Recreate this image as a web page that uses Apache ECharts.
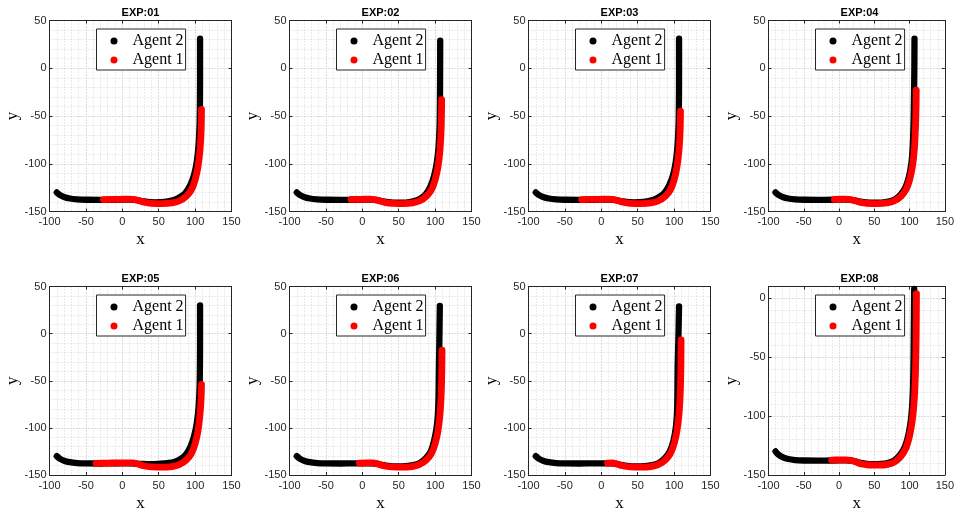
<!DOCTYPE html>
<html>
<head>
<meta charset="utf-8">
<script src="https://cdn.jsdelivr.net/npm/echarts@6/dist/echarts.min.js"></script>
<style>html,body{margin:0;padding:0;background:#fff}#c{width:957px;height:513px}</style>
</head>
<body>
<div id="c"></div>
<script>
// ---------- data ----------
const titles = ['EXP:01','EXP:02','EXP:03','EXP:04','EXP:05','EXP:06','EXP:07','EXP:08'];
const seriesNames = ['Agent 2','Agent 1'];
const xTicks = [-100,-50,0,50,100,150];
const yTicks = [-150,-100,-50,0,50];
const yTicks08 = [-150,-100,-50,0];
const yMax = [50,50,50,50,50,50,50,10];

// Agent 2 (black)
const agent2_exp01 = [[-90,-130],[-86,-132.6],[-80,-134.8],[-72,-136.4],[-62,-137.3],[-50,-137.7],[-30,-137.8],[-10,-137.7],[10,-137.6],[20,-138],[30,-139.4],[45,-140.4],[58,-140],[68,-138.6],[77,-136],[86,-131],[93,-123],[98.5,-112],[102.3,-98],[104.8,-80],[106.2,-58],[106.7,-28],[106.8,0],[106.8,31]];
const agent2_exp02 = [[-90,-130],[-86,-132.6],[-80,-134.8],[-72,-136.4],[-62,-137.3],[-50,-137.7],[-30,-137.8],[-10,-137.7],[10,-137.6],[20,-138],[30,-139.6],[45,-140.8],[60,-140.6],[70,-139.4],[79,-137],[87,-132],[93.5,-124],[98.5,-113],[102.3,-99],[104.8,-82],[106.2,-60],[106.7,-30],[106.9,0],[107,29]];
const agent2_exp03 = [[-90,-130],[-86,-132.6],[-80,-134.8],[-72,-136.4],[-62,-137.3],[-50,-137.7],[-30,-137.8],[-10,-137.7],[10,-137.6],[20,-138],[30,-139.4],[45,-140.4],[58,-140],[68,-138.6],[77,-136],[86,-131],[93,-123],[98.5,-112],[102.3,-98],[104.8,-80],[106.2,-58],[106.7,-28],[106.8,0],[106.8,31]];
const agent2_exp04 = [[-90,-130],[-86,-132.6],[-80,-134.8],[-72,-136.4],[-62,-137.3],[-50,-137.7],[-30,-137.8],[-10,-137.7],[10,-137.6],[20,-138],[30,-139.6],[45,-140.8],[60,-140.6],[70,-139.6],[79,-137.3],[87,-132.5],[94,-125],[99,-114],[102.5,-100],[104.5,-82],[105.6,-60],[106.3,-30],[106.8,0],[107,31]];
const agent2_exp05 = [[-90,-130],[-86,-132.6],[-80,-134.8],[-72,-136.4],[-62,-137.3],[-50,-137.7],[-30,-137.8],[-10,-137.7],[10,-137.6],[25,-138.2],[40,-138.6],[52,-138],[62,-137.3],[71,-136.2],[79,-133.5],[87,-128.5],[93.5,-120],[98.5,-109],[102.3,-95],[104.8,-78],[106.2,-56],[106.7,-28],[106.8,0],[106.8,30]];
const agent2_exp06 = [[-90,-130],[-86,-132.6],[-80,-134.8],[-72,-136.4],[-62,-137.3],[-50,-137.7],[-30,-137.8],[-10,-137.7],[10,-137.6],[20,-138],[30,-139.6],[45,-140.8],[60,-140.6],[70,-139.6],[79,-137.3],[87,-132.5],[94,-125],[98.5,-114],[101.8,-101],[103.8,-86],[104.8,-65],[105.2,-40],[105.8,-10],[106.5,29.5]];
const agent2_exp07 = [[-90,-130],[-86,-132.6],[-80,-134.8],[-72,-136.4],[-62,-137.3],[-50,-137.7],[-30,-137.8],[-10,-137.7],[10,-137.6],[20,-138],[30,-139.6],[45,-140.8],[60,-140.6],[70,-139.6],[79,-137.3],[87,-132.5],[94,-125],[99,-114],[102.3,-100],[104,-84],[104.6,-62],[104.9,-35],[105.8,-8],[106.8,29]];
const agent2_exp08 = [[-90,-130],[-86,-132.6],[-80,-134.8],[-72,-136.4],[-62,-137.3],[-50,-137.7],[-30,-137.8],[-10,-137.7],[10,-137.6],[20,-138],[30,-139.6],[45,-140.8],[60,-140.6],[70,-139.6],[79,-137.3],[87,-132.5],[94,-125],[99,-114],[102.5,-100],[104.5,-82],[105.5,-60],[106,-30],[106.4,-5],[106.6,8]];

// Agent 1 (red)
const agent1_exp01 = [[-26,-137.5],[-10,-137.3],[5,-137.1],[15,-137.3],[22,-138.4],[30,-140.3],[40,-141.4],[55,-141.7],[68,-141],[78,-139],[88,-134],[95,-127],[100,-117],[104,-103],[106.8,-85],[108.3,-65],[108.8,-43]];
const agent1_exp02 = [[-15.5,-137.4],[0,-137.2],[10,-137.1],[17,-137.6],[24,-139],[32,-140.7],[42,-141.5],[57,-141.7],[69,-141],[79,-138.8],[88,-134],[95,-127],[100,-117],[104,-103],[106.8,-85],[108.4,-62],[109,-33]];
const agent1_exp03 = [[-27,-137.5],[-10,-137.3],[5,-137.1],[15,-137.3],[22,-138.4],[30,-140.3],[40,-141.4],[55,-141.7],[68,-141],[78,-139],[88,-134],[95,-127],[100,-117],[104,-103],[106.8,-85],[108.3,-65],[108.8,-45]];
const agent1_exp04 = [[-6.5,-137.4],[5,-137.1],[14,-137.2],[21,-138.3],[29,-140.2],[40,-141.4],[55,-141.7],[68,-141],[78,-139],[88,-134],[95,-127],[100,-117],[104,-103],[106.8,-85],[108.4,-62],[109.2,-40],[109.5,-23]];
const agent1_exp05 = [[-36,-137.6],[-20,-137.4],[0,-137.1],[14,-137.2],[21,-138.3],[29,-140.2],[40,-141.4],[55,-141.7],[68,-141],[78,-139],[88,-134],[95,-127],[100,-117],[104,-103],[106.8,-85],[108.3,-68],[108.8,-54]];
const agent1_exp06 = [[-4,-137.4],[6,-137.1],[14,-137.2],[21,-138.3],[29,-140.2],[40,-141.4],[55,-141.7],[68,-141],[78,-139],[88,-134],[95,-127],[100,-117],[104,-103],[106.8,-85],[108.5,-62],[109.2,-40],[109.5,-17.5]];
const agent1_exp07 = [[8.5,-137.3],[15,-137.2],[21,-138.3],[29,-140.2],[40,-141.4],[55,-141.7],[68,-141],[78,-139],[88,-134],[95,-127],[100,-117],[104,-103],[106.8,-85],[108.5,-62],[109.3,-35],[109.6,-6.7]];
const agent1_exp08 = [[-10.5,-137.4],[0,-137.2],[10,-137.1],[17,-137.6],[24,-139],[32,-140.7],[42,-141.5],[57,-141.7],[69,-141],[79,-138.8],[88,-134],[95,-127],[100,-117],[104,-103],[106.8,-85],[108.5,-60],[109.4,-30],[109.8,4]];

const agent2 = [agent2_exp01,agent2_exp02,agent2_exp03,agent2_exp04,agent2_exp05,agent2_exp06,agent2_exp07,agent2_exp08];
const agent1 = [agent1_exp01,agent1_exp02,agent1_exp03,agent1_exp04,agent1_exp05,agent1_exp06,agent1_exp07,agent1_exp08];

// ---------- layout ----------
const colLeft = [49.5, 289.5, 528.5, 768.5];
const rowTop = [20.5, 286.5];
const rowH = [191, 192];
const gridW = 182;
const AX = '#262626';
const MAJOR = '#c4c4c4';
const MINOR = '#d6d6d6';

const grids = [], xAxes = [], yAxes = [], legends = [], series = [], graphics = [];
for (let i = 0; i < 8; i++) {
  const c = i % 4, r = Math.floor(i / 4);
  grids.push({left: colLeft[c], top: rowTop[r], width: gridW, height: rowH[r], containLabel: false});
  const ymax = yMax[i];
  const yt = i === 7 ? yTicks08 : yTicks;
  // x: main (bottom), minor grid (top), major ticks on top
  xAxes.push({
    gridIndex: i, type: 'value', position: 'bottom', min: -100, max: 150, interval: 50,
    axisLine: {show: true, onZero: false, lineStyle: {color: AX, width: 1}},
    axisTick: {show: true, inside: true, length: 3, lineStyle: {color: AX}},
    axisLabel: {color: AX, fontSize: 11, fontFamily: 'Liberation Sans', margin: 5},
    splitLine: {show: true, lineStyle: {color: MAJOR, type: [1, 2], width: 1}},
    name: 'x', nameLocation: 'middle', nameGap: 20,
    nameTextStyle: {fontFamily: 'Liberation Serif', fontSize: 17, color: '#000'}
  });
  xAxes.push({
    gridIndex: i, type: 'value', position: 'top', min: -100, max: 150, interval: 10,
    axisLine: {show: true, onZero: false, lineStyle: {color: AX, width: 1}},
    axisTick: {show: false}, axisLabel: {show: false},
    splitLine: {show: true, lineStyle: {color: MINOR, type: [1, 2], width: 1}}
  });
  xAxes.push({
    gridIndex: i, type: 'value', position: 'top', offset: 0, min: -100, max: 150, interval: 50,
    axisLine: {show: false, onZero: false},
    axisTick: {show: true, inside: true, length: 3, lineStyle: {color: AX}},
    axisLabel: {show: false}, splitLine: {show: false}
  });
  // y: main (left), minor grid (right), major ticks on right
  yAxes.push({
    gridIndex: i, type: 'value', position: 'left', min: -150, max: ymax, interval: 50,
    axisLine: {show: true, onZero: false, lineStyle: {color: AX, width: 1}},
    axisTick: {show: true, inside: true, length: 3, customValues: yt, lineStyle: {color: AX}},
    axisLabel: {color: AX, fontSize: 11, fontFamily: 'Liberation Sans', margin: 3, customValues: yt},
    splitLine: {show: true, lineStyle: {color: MAJOR, type: [1, 2], width: 1}},
    name: 'y', nameLocation: 'middle', nameGap: 28,
    nameTextStyle: {fontFamily: 'Liberation Serif', fontSize: 17, color: '#000'}
  });
  yAxes.push({
    gridIndex: i, type: 'value', position: 'right', min: -150, max: ymax, interval: 10,
    axisLine: {show: true, onZero: false, lineStyle: {color: AX, width: 1}},
    axisTick: {show: false}, axisLabel: {show: false},
    splitLine: {show: true, lineStyle: {color: MINOR, type: [1, 2], width: 1}}
  });
  yAxes.push({
    gridIndex: i, type: 'value', position: 'right', offset: 0, min: -150, max: ymax, interval: 50,
    axisLine: {show: false, onZero: false},
    axisTick: {show: true, inside: true, length: 3, customValues: yt, lineStyle: {color: AX}},
    axisLabel: {show: false}, splitLine: {show: false}
  });
  legends.push({
    left: colLeft[c] + 47, top: rowTop[r] + 8.5, orient: 'vertical',
    data: seriesNames, icon: 'circle', itemWidth: 7, itemHeight: 7, itemGap: 1,
    padding: [3, 2, 1, 14], borderColor: AX, borderWidth: 1, backgroundColor: '#fff',
    selectedMode: false, z: 10,
    textStyle: {fontFamily: 'Liberation Serif', fontSize: 16, color: '#000', lineHeight: 18, padding: [0, 0, 0, 10]}
  });
  series.push({
    name: seriesNames[0], type: 'line', xAxisIndex: 3 * i, yAxisIndex: 3 * i,
    data: agent2[i], symbol: 'none', smooth: 0.3, clip: false, z: 2,
    itemStyle: {color: '#000000'},
    lineStyle: {color: '#000000', width: 6.3, cap: 'round', join: 'round'}
  });
  series.push({
    name: seriesNames[1], type: 'line', xAxisIndex: 3 * i, yAxisIndex: 3 * i,
    data: agent1[i], symbol: 'none', smooth: 0.3, clip: false, z: 3,
    itemStyle: {color: '#ff0000'},
    lineStyle: {color: '#ff0000', width: 6.8, cap: 'round', join: 'round'}
  });
  graphics.push({
    type: 'text', x: colLeft[c] + gridW / 2, y: rowTop[r] - 8,
    style: {text: titles[i], fill: '#000', font: 'bold 11px "Liberation Sans"', align: 'center', verticalAlign: 'middle'}
  });
}

const chart = echarts.init(document.getElementById('c'), null, {renderer: 'canvas'});
chart.setOption({
  animation: false,
  backgroundColor: '#ffffff',
  grid: grids, xAxis: xAxes, yAxis: yAxes, legend: legends, series: series, graphic: graphics
});
</script>
</body>
</html>
